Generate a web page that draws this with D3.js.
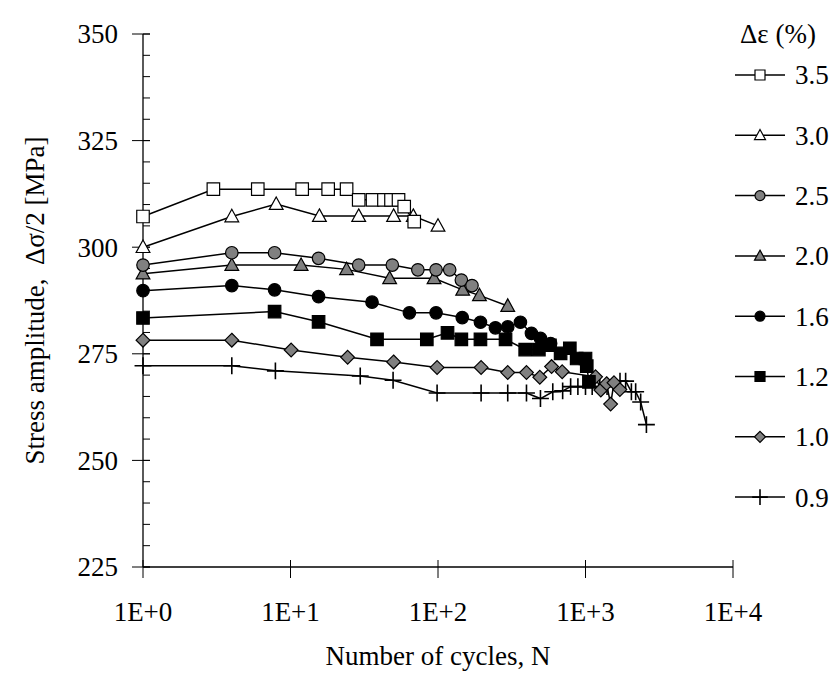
<!DOCTYPE html>
<html>
<head>
<meta charset="utf-8">
<script src="https://cdn.jsdelivr.net/npm/d3@7"></script>
<style>
  body { margin: 0; background: #fff; }
  svg { display: block; font-family: "Liberation Serif", "Times New Roman", serif; }
</style>
</head>
<body>
<svg width="836" height="691"></svg>
<script>
// strain amplitude series, [cycles N, stress amplitude MPa]
var S35 = [[1,307.2],[3,313.6],[6,313.6],[12,313.6],[18,313.6],[24,313.6],[29,311.1],[36,311.1],[43,311.1],[48,311.1],[54,311.1],[59,309.5],[69,306]];
var S30 = [[1,300],[4,307.2],[8,310.1],[15.7,307.3],[29,307.3],[50,307.3],[68,307.3],[100,305]];
var S25 = [[1,295.8],[4,298.7],[7.8,298.7],[15.5,297.4],[29,295.8],[49,295.8],[73,294.7],[97,294.7],[120,294.7],[144,292.3],[170,291]];
var S20 = [[1,293.8],[4,295.8],[11.8,295.8],[24,294.8],[47,292.7],[94,292.7],[147,290],[191,288.7],[297,286.2]];
var S16 = [[1,289.8],[4,291],[7.8,290],[15.5,288.4],[35.7,287.1],[64,284.6],[97,284.6],[146,283.5],[194,282.4],[245,281.1],[297,281.3],[362,282.4],[430,279.8],[495,278.6],[580,277.4]];
var S12 = [[1,283.4],[7.8,284.9],[15.5,282.5],[38.6,278.4],[84,278.4],[116,279.9],[144,278.4],[194,278.4],[287,278.4],[390,276],[483,276],[574,277],[678,275.1],[783,276.3],[871,273.9],[1000,273.9],[1020,272.1],[1055,268.4]];
var S10 = [[1,278.2],[4,278.2],[10.1,275.9],[24.4,274.2],[50,273.1],[98.6,271.8],[196,271.8],[297,270.6],[398,270.6],[490,269.5],[589,272],[695,270.8],[1170,269.6],[1270,266.5],[1390,268],[1480,263.2],[1560,268.2],[1710,266.6]];
var S09 = [[1,272.2],[4,272.2],[7.9,271],[29.7,269.8],[49.6,268.8],[98.6,265.8],[196,265.8],[297,265.8],[398,265.8],[495,264.5],[600,266.1],[700,266.3],[793,267.3],[888,267.3],[1000,267.3],[1110,267.3],[1250,267.3],[1400,267.3],[1714,268.6],[1871,268.6],[2047,266.1],[2188,266.1],[2366,263.7],[2588,258.4]];

var LEGEND_LABELS = ["3.5", "3.0", "2.5", "2.0", "1.6", "1.2", "1.0", "0.9"];
var Y_TICKS = [225, 250, 275, 300, 325, 350];
var X_TICKS = [1, 10, 100, 1000, 10000];
var X_TICK_LABELS = ["1E+0", "1E+1", "1E+2", "1E+3", "1E+4"];

var seriesList = [
  { data: S35, shape: "square", fill: "white" },
  { data: S30, shape: "triangle", fill: "white" },
  { data: S25, shape: "circle", fill: "#808080" },
  { data: S20, shape: "triangle", fill: "#808080" },
  { data: S16, shape: "circle", fill: "black" },
  { data: S12, shape: "square", fill: "black" },
  { data: S10, shape: "diamond", fill: "#808080" },
  { data: S09, shape: "plus", fill: "none" }
];

var svg = d3.select("svg");
var plotLeft = 143, plotRight = 733, plotTop = 34, plotBottom = 567;
var FONT = "27px";

var xScale = d3.scaleLog().domain([1, 10000]).range([plotLeft, plotRight]);
var yScale = d3.scaleLinear().domain([225, 350]).range([plotBottom, plotTop]);

function markerPath(shape, s) {
  var h = s / 2;
  if (shape === "square") return "M" + (-h) + "," + (-h) + "h" + s + "v" + s + "h" + (-s) + "Z";
  if (shape === "triangle") return "M0," + (-h * 1.15) + "L" + (h * 1.1) + "," + (h * 0.85) + "L" + (-h * 1.1) + "," + (h * 0.85) + "Z";
  if (shape === "diamond") return "M0," + (-h * 1.1) + "L" + (h * 1.1) + ",0L0," + (h * 1.1) + "L" + (-h * 1.1) + ",0Z";
  if (shape === "plus") return "M" + (-h * 1.3) + ",0H" + (h * 1.3) + "M0," + (-h * 1.3) + "V" + (h * 1.3);
  return "";
}

function drawMarker(g, shape, fill, size) {
  if (shape === "circle") {
    g.append("circle").attr("r", size / 2).attr("fill", fill).attr("stroke", "black").attr("stroke-width", 1.2);
  } else {
    g.append("path").attr("d", markerPath(shape, size))
      .attr("fill", fill).attr("stroke", "black").attr("stroke-width", shape === "plus" ? 1.6 : 1.2);
  }
}

// axes
var axes = svg.append("g").attr("stroke", "black");
axes.append("line").attr("x1", plotLeft).attr("x2", plotLeft).attr("y1", plotTop).attr("y2", plotBottom).attr("stroke-width", 1.3);
axes.append("line").attr("x1", plotLeft).attr("x2", plotRight).attr("y1", plotBottom).attr("y2", plotBottom).attr("stroke-width", 1.3);

var yMinor = d3.range(225, 351, 5);
axes.selectAll(".ymin").data(yMinor).enter().append("line")
  .attr("x1", plotLeft).attr("x2", plotLeft + 7)
  .attr("y1", function (d) { return yScale(d); }).attr("y2", function (d) { return yScale(d); });
axes.selectAll(".ymaj").data(Y_TICKS).enter().append("line")
  .attr("x1", plotLeft - 11).attr("x2", plotLeft + 7)
  .attr("y1", function (d) { return yScale(d); }).attr("y2", function (d) { return yScale(d); });

axes.selectAll(".xmaj").data(X_TICKS).enter().append("line")
  .attr("x1", function (d) { return xScale(d); }).attr("x2", function (d) { return xScale(d); })
  .attr("y1", plotBottom - 7).attr("y2", plotBottom + 11);

svg.selectAll(".ylab").data(Y_TICKS).enter().append("text")
  .attr("x", plotLeft - 25).attr("y", function (d) { return yScale(d); })
  .attr("dy", "0.35em").attr("text-anchor", "end")
  .style("font-size", FONT).text(function (d) { return d; });

svg.selectAll(".xlab").data(X_TICKS).enter().append("text")
  .attr("x", function (d) { return xScale(d); }).attr("y", 621)
  .attr("text-anchor", "middle")
  .style("font-size", FONT).text(function (d, i) { return X_TICK_LABELS[i]; });

svg.append("text")
  .attr("x", (plotLeft + plotRight) / 2).attr("y", 665)
  .attr("text-anchor", "middle").style("font-size", FONT)
  .text("Number of cycles, N");

svg.append("text")
  .attr("transform", "translate(44," + ((plotTop + plotBottom) / 2) + ")rotate(-90)")
  .attr("text-anchor", "middle").style("font-size", FONT)
  .style("white-space", "pre")
  .text("Stress amplitude,  \u0394\u03c3/2 [MPa]");

// series
var line = d3.line()
  .x(function (d) { return xScale(d[0]); })
  .y(function (d) { return yScale(d[1]); });

seriesList.forEach(function (s) {
  svg.append("path").datum(s.data).attr("d", line)
    .attr("fill", "none").attr("stroke", "black").attr("stroke-width", 1.5);
});
seriesList.slice().reverse().forEach(function (s) {
  s.data.forEach(function (d) {
    var g = svg.append("g").attr("transform", "translate(" + xScale(d[0]) + "," + yScale(d[1]) + ")");
    drawMarker(g, s.shape, s.fill, s.shape === "plus" ? 13 : 12.5);
  });
});

// legend
svg.append("text").attr("x", 740).attr("y", 43).style("font-size", FONT).text("\u0394\u03b5 (%)");
var legY = d3.scaleLinear().domain([0, 1]).range([75, 135.3]);
seriesList.forEach(function (s, i) {
  var y = legY(i);
  svg.append("line").attr("x1", 735).attr("x2", 785).attr("y1", y).attr("y2", y)
    .attr("stroke", "black").attr("stroke-width", 1.5);
  var g = svg.append("g").attr("transform", "translate(760," + y + ")");
  drawMarker(g, s.shape, s.fill, s.shape === "plus" ? 12 : 10);
  svg.append("text").attr("x", 795).attr("y", y).attr("dy", "0.35em")
    .style("font-size", FONT).text(LEGEND_LABELS[i]);
});
</script>
</body>
</html>
